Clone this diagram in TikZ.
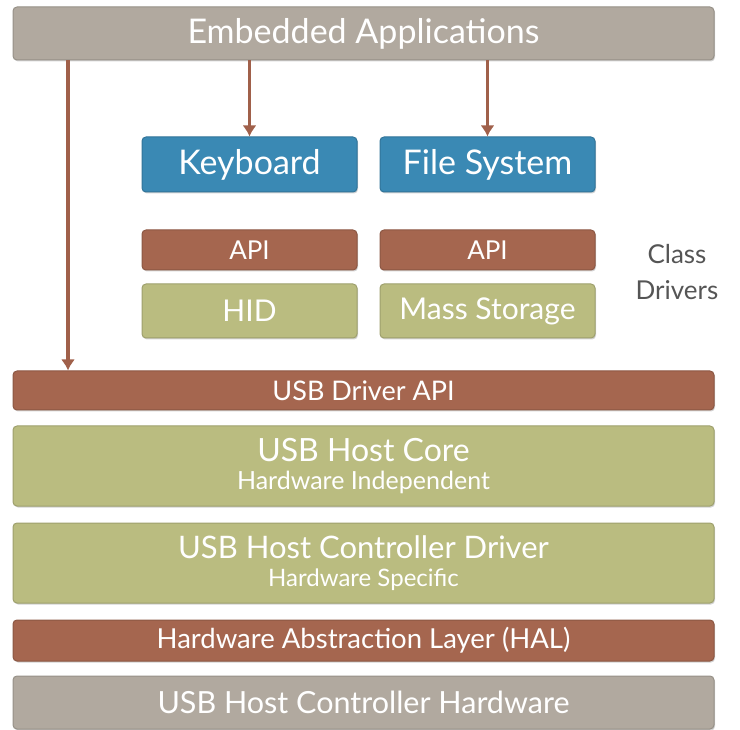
\documentclass[tikz,border=0pt]{standalone}
\usepackage{fontspec}
\setmainfont{Lato}
\usetikzlibrary{shadows,arrows.meta}
\definecolor{layergray}{HTML}{B1A99F}
\definecolor{layerred}{HTML}{A5664F}
\definecolor{layerolive}{HTML}{BABC80}
\definecolor{layerblue}{HTML}{3A89B4}
\definecolor{arrowred}{HTML}{A0604A}
\definecolor{labelgray}{HTML}{555555}

\begin{document}
\begin{tikzpicture}[x=1pt,y=-1pt,
    layer/.style={rounded corners=4pt, text=white, inner sep=0pt, line width=1pt,
      drop shadow={opacity=0.35, shadow xshift=1pt, shadow yshift=-1.5pt}},
    graybox/.style={layer, fill=layergray, draw=layergray!85!black},
    redbox/.style={layer, fill=layerred, draw=layerred!85!black},
    olivebox/.style={layer, fill=layerolive, draw=layerolive!85!black},
    bluebox/.style={layer, fill=layerblue, draw=layerblue!85!black},
    wide/.style={minimum width=701pt},
    half/.style={minimum width=215pt},
    apparrow/.style={arrowred, line width=3.5pt, -{Latex[length=11pt,width=14pt]}}]
    \useasboundingbox (0,0) rectangle (740,730);
    % application layer
    \node [graybox, wide, minimum height=53pt, font=\fontsize{34}{35}\selectfont] (apps) at (363.5,33.5) {Embedded Applications};
    \node [bluebox, half, minimum height=55pt, font=\fontsize{34}{35}\selectfont] (kbd) at (249.5,164.5) {Keyboard};
    \node [bluebox, half, minimum height=55pt, font=\fontsize{34}{35}\selectfont] (fs) at (487.5,164.5) {File System};
    % class drivers
    \node [redbox, half, minimum height=40pt, font=\fontsize{26}{27}\selectfont] (hidapi) at (249.5,250) {API};
    \node [redbox, half, minimum height=40pt, font=\fontsize{26}{27}\selectfont] (msdapi) at (487.5,250) {API};
    \node [olivebox, half, minimum height=54pt, font=\fontsize{30}{31}\selectfont] (hid) at (249.5,311) {HID};
    \node [olivebox, half, minimum height=54pt, font=\fontsize{30}{31}\selectfont] (msd) at (487.5,311) {Mass Storage};
    \node [text=labelgray, align=center, font=\fontsize{26}{36}\selectfont] (cls) at (677,272) {Class\\Drivers};
    % host stack
    \node [redbox, wide, minimum height=39pt, font=\fontsize{27}{28}\selectfont] (drvapi) at (363.5,390.5) {USB Driver API};
    \node [olivebox, wide, minimum height=80pt, align=center, font=\fontsize{32}{28}\selectfont] (core) at (363.5,466)
      {USB Host Core\\{\fontsize{25}{28}\selectfont Hardware Independent}};
    \node [olivebox, wide, minimum height=80pt, align=center, font=\fontsize{31}{28}\selectfont] (hcd) at (363.5,563)
      {USB Host Controller Driver\\{\fontsize{24}{28}\selectfont Hardware Specific}};
    \node [redbox, wide, minimum height=41pt, font=\fontsize{27.5}{28}\selectfont] (hal) at (363.5,640.5) {Hardware Abstraction Layer (HAL)};
    \node [graybox, wide, minimum height=53pt, font=\fontsize{30.5}{31}\selectfont] (hw) at (363.5,702.5) {USB Host Controller Hardware};
    % arrows
    \draw [apparrow] (apps.south -| kbd.north) -- (kbd.north);
    \draw [apparrow] (apps.south -| fs.north) -- (fs.north);
    \coordinate (down) at (68,0);
    \draw [apparrow] (apps.south -| down) -- (drvapi.north -| down);
\end{tikzpicture}
\end{document}
